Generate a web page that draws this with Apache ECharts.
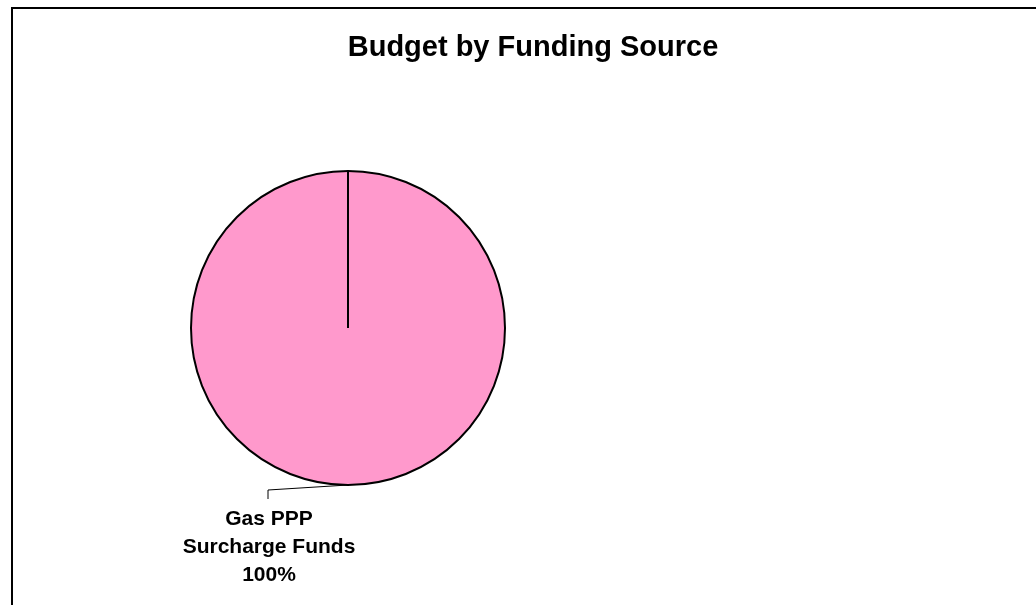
<!DOCTYPE html>
<html>
<head>
<meta charset="utf-8">
<script src="https://cdn.jsdelivr.net/npm/echarts@6/dist/echarts.min.js"></script>
<style>html,body{margin:0;padding:0;background:#fff}#c{width:1036px;height:605px}</style>
</head>
<body>
<div id="c"></div>
<script>
const titleText = 'Budget by Funding Source';
const categories = ['Gas PPP\nSurcharge Funds'];
const values = [100];

const chart = echarts.init(document.getElementById('c'), null, {renderer: 'canvas'});
const FONT = '"Liberation Sans", Arial, sans-serif';

const option = {
  animation: false,
  backgroundColor: '#ffffff',
  title: {
    text: titleText,
    left: 528, top: 28, textAlign: 'center',
    textStyle: {fontFamily: FONT, fontWeight: 'bold', fontSize: 29, color: '#000'}
  },
  graphic: [{
    type: 'rect', shape: {x: 12, y: 8, width: 1200, height: 800},
    style: {fill: 'none', stroke: '#000', lineWidth: 2}, silent: true
  }],
  series: [{
    type: 'pie',
    center: [348, 328],
    radius: 157,
    startAngle: 90,
    clockwise: true,
    data: categories.map((c, i) => ({name: c, value: values[i]})),
    itemStyle: {color: '#FF99CC', borderColor: '#000', borderWidth: 2},
    label: {
      show: true, position: 'outside',
      formatter: p => p.name + '\n' + Math.round(p.percent) + '%',
      fontFamily: FONT, fontWeight: 'bold', fontSize: 21, lineHeight: 28,
      color: '#000', align: 'center'
    },
    labelLine: {show: true, lineStyle: {color: '#000', width: 1}},
    emphasis: {disabled: true}
  }]
};
chart.setOption(option);

const lay = chart.getModel().getSeriesByIndex(0).getData().getItemLayout(0);
const cx = lay.cx, cy = lay.cy, r = lay.r;
const bx = cx - 80, by = cy + r + 5;
chart.setOption({
  graphic: [
    {type: 'rect', shape: {x: 12, y: 8, width: 1200, height: 800},
     style: {fill: 'none', stroke: '#000', lineWidth: 2}, silent: true},
    {type: 'line', shape: {x1: cx, y1: cy, x2: cx + r * Math.cos(lay.startAngle), y2: cy + r * Math.sin(lay.startAngle)},
     style: {stroke: '#000', lineWidth: 2}, silent: true, z: 10}
  ],
  series: [{
    labelLayout: function () {
      return {
        x: bx + 1, y: by + 15, align: 'center', verticalAlign: 'top',
        labelLinePoints: [[cx, cy + r], [bx, by], [bx, by + 9]]
      };
    }
  }]
});
</script>
</body>
</html>
